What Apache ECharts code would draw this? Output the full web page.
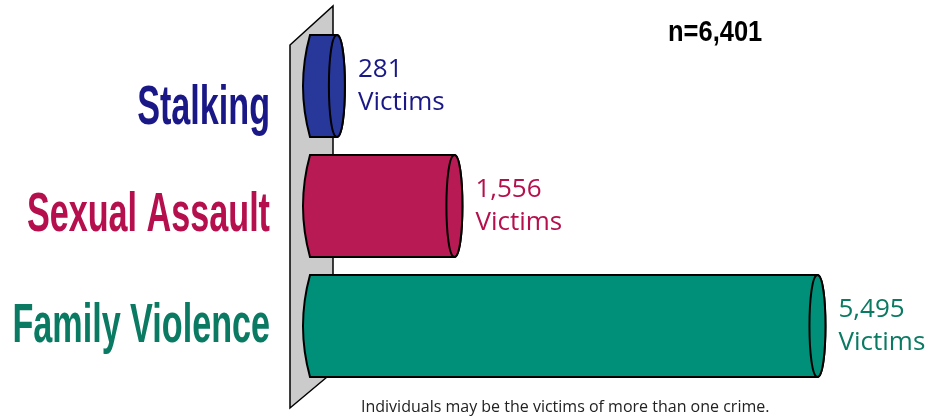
<!DOCTYPE html>
<html>
<head>
<meta charset="utf-8">
<script src="https://cdn.jsdelivr.net/npm/echarts@6/dist/echarts.min.js"></script>
<style>
  html, body { margin: 0; padding: 0; background: #fff; }
  #chart { width: 937px; height: 417px; }
</style>
</head>
<body>
<div id="chart"></div>
<script>
// data
const categories = ['Stalking', 'Sexual Assault', 'Family Violence'];
const victims = [281, 1556, 5495];
const totalN = 6401;
const footnote = 'Individuals may be the victims of more than one crime.';

// colours per category
const barColors = ['#28389a', '#b81b53', '#009079'];
const textColors = ['#1a1886', '#b5104d', '#0b7a63'];
// the big category labels do not sit exactly on the bar centres
const labelShift = [23, 10, 1];

let chart = echarts.init(document.getElementById('chart'));

function fmt(v) {
    return v.toLocaleString('en-US');
}

// cylinder lying on its side, with its category name and value label
function renderCylinder(params, api) {
    let idx = api.value(0);
    let val = api.value(1);
    let start = api.coord([0, idx]);
    let end = api.coord([val, idx]);
    let h = api.size([0, 1])[1] * 0.85;
    let cy = start[1];
    let top = cy - h / 2, bottom = cy + h / 2;
    let x0 = start[0] - 9;
    let rx = 8;
    let cx = end[0] - rx;
    let k = rx * 4 / 3;
    let body = 'M' + x0 + ',' + top + ' L' + cx + ',' + top +
        ' C' + (cx + k) + ',' + top + ' ' + (cx + k) + ',' + bottom + ' ' + cx + ',' + bottom +
        ' L' + x0 + ',' + bottom +
        ' Q' + (x0 - 14) + ',' + cy + ' ' + x0 + ',' + top + ' Z';
    let face = 'M' + cx + ',' + top +
        ' C' + (cx + k) + ',' + top + ' ' + (cx + k) + ',' + bottom + ' ' + cx + ',' + bottom +
        ' C' + (cx - k) + ',' + bottom + ' ' + (cx - k) + ',' + top + ' ' + cx + ',' + top + ' Z';
    let color = barColors[idx];
    return {
        type: 'group',
        children: [
            {
                type: 'path',
                shape: { pathData: body },
                style: { fill: color, stroke: '#000', lineWidth: 2 }
            },
            {
                type: 'path',
                shape: { pathData: face },
                style: { fill: color, stroke: '#000', lineWidth: 2 }
            },
            {
                type: 'text',
                style: {
                    text: fmt(val) + '\nVictims',
                    x: end[0] + 13,
                    y: cy,
                    verticalAlign: 'middle',
                    align: 'left',
                    fill: textColors[idx],
                    fontFamily: 'Open Sans',
                    fontSize: 26,
                    lineHeight: 33
                }
            },
            {
                // condensed category name left of the wall
                type: 'text',
                x: 270,
                y: cy + labelShift[idx],
                scaleX: 0.61,
                style: {
                    text: categories[idx],
                    x: 0,
                    y: 0,
                    align: 'right',
                    verticalAlign: 'middle',
                    fill: textColors[idx],
                    fontFamily: 'Liberation Sans',
                    fontWeight: 'bold',
                    fontSize: 56
                }
            }
        ]
    };
}

let option = {
    animation: false,
    backgroundColor: '#fff',
    title: {
        text: footnote,
        left: 356,
        top: 394,
        textStyle: {
            fontFamily: 'Open Sans',
            fontWeight: 'normal',
            fontSize: 16,
            color: '#222'
        }
    },
    grid: {
        left: 319,
        right: 65,
        top: 26,
        bottom: 31,
        outerBoundsMode: 'none'
    },
    xAxis: {
        type: 'value',
        min: 0,
        max: 6000,
        show: false
    },
    yAxis: {
        type: 'category',
        inverse: true,
        data: categories,
        axisLine: { show: false },
        axisTick: { show: false },
        axisLabel: { show: false }
    },
    graphic: [
        {
            // back wall
            type: 'polygon',
            z: -10,
            shape: { points: [[290, 45], [333, 6], [333, 372], [290, 408]] },
            style: { fill: '#cbcbcb', stroke: '#000', lineWidth: 1.5 }
        },
        {
            type: 'text',
            x: 668,
            y: 33,
            scaleX: 0.85,
            style: {
                text: 'n=' + fmt(totalN),
                x: 0,
                y: 0,
                align: 'left',
                verticalAlign: 'middle',
                fill: '#000',
                fontFamily: 'Liberation Sans',
                fontWeight: 'bold',
                fontSize: 30
            }
        }
    ],
    series: [
        {
            type: 'custom',
            renderItem: renderCylinder,
            encode: { x: 1, y: 0 },
            data: victims.map(function (v, i) { return [i, v]; })
        }
    ]
};

chart.setOption(option);
</script>
</body>
</html>
